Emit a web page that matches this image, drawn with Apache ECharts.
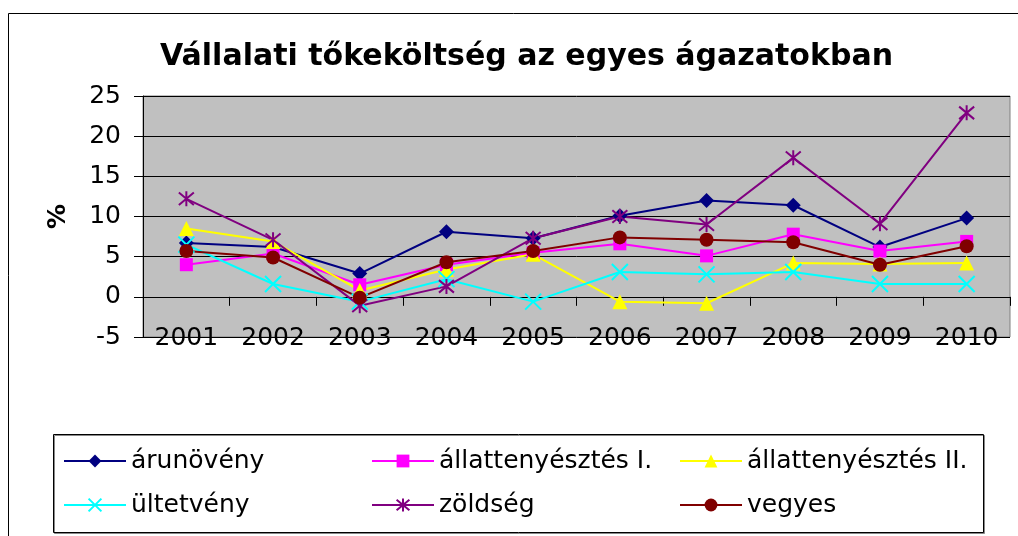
<!DOCTYPE html>
<html>
<head>
<meta charset="utf-8">
<script src="https://cdn.jsdelivr.net/npm/echarts@6/dist/echarts.min.js"></script>
<style>
  html, body { margin: 0; padding: 0; background: #fff; }
  #main { width: 1018px; height: 536px; }
</style>
</head>
<body>
<div id="main"></div>
<script>
// évek
var years = ['2001', '2002', '2003', '2004', '2005', '2006', '2007', '2008', '2009', '2010'];
var yTicks = [-5, 0, 5, 10, 15, 20, 25];

// ágazatonkénti értékek (%)
var arunoveny = [6.7, 6.2, 2.9, 8.1, 7.3, 10.1, 12.0, 11.4, 6.2, 9.8];
var allatI = [4.0, 5.4, 1.5, 4.0, 5.5, 6.6, 5.1, 7.8, 5.7, 6.9];
var allatII = [8.5, 6.9, 0.8, 3.4, 5.3, -0.6, -0.8, 4.2, 4.1, 4.2];
var ultetveny = [6.5, 1.6, -0.6, 2.2, -0.6, 3.1, 2.8, 3.1, 1.6, 1.6];
var zoldseg = [12.2, 7.1, -1.1, 1.3, 7.3, 10.0, 9.0, 17.3, 9.1, 22.9];
var vegyes = [5.7, 4.9, -0.1, 4.3, 5.7, 7.4, 7.1, 6.8, 4.0, 6.3];

var font = 'DejaVu Sans, sans-serif';
var crossPath = 'path://M0 0L10 10M10 0L0 10';
var starPath = 'path://M0 0L10 10M10 0L0 10M5 -1L5 11';

function line(name, data, color, symbol, size, stroke) {
  return {
    name: name,
    type: 'line',
    data: data,
    symbol: symbol,
    symbolSize: size,
    lineStyle: { color: color, width: 2 },
    itemStyle: stroke
      ? { color: color, borderColor: color, borderWidth: 2 }
      : { color: color },
    emphasis: { disabled: true },
    animation: false
  };
}

var option = {
  animation: false,
  title: {
    text: 'Vállalati tőkeköltség az egyes ágazatokban',
    left: 155,
    top: 37,
    textStyle: { fontFamily: font, fontSize: 30, fontWeight: 'bold', color: '#000' }
  },
  graphic: [
    {
      type: 'rect',
      shape: { x: 8.5, y: 13.5, width: 1030, height: 540 },
      style: { fill: 'none', stroke: '#000', lineWidth: 1 }
    },
    {
      type: 'rect',
      shape: { x: 53.5, y: 434.5, width: 930, height: 98 },
      style: { fill: '#fff', stroke: '#000', lineWidth: 1, shadowColor: '#888', shadowOffsetX: 1, shadowOffsetY: 1 },
      z: -1
    }
  ],
  legend: {
    left: 63,
    top: 439,
    width: 950,
    itemWidth: 62,
    itemHeight: 16,
    itemGap: 0,
    padding: 0,
    lineStyle: { width: 2 },
    textStyle: { fontFamily: font, fontSize: 25, color: '#000', width: 240, lineHeight: 44 },
    data: ['árunövény', 'állattenyésztés I.', 'állattenyésztés II.', 'ültetvény', 'zöldség', 'vegyes']
  },
  grid: {
    left: 143,
    top: 96,
    right: 8,
    bottom: 199,
    show: true,
    backgroundColor: '#C0C0C0',
    borderColor: '#808080',
    borderWidth: 1
  },
  xAxis: {
    type: 'category',
    data: years,
    boundaryGap: true,
    axisLine: { onZero: true, lineStyle: { color: '#000', width: 1 } },
    axisTick: { show: true, inside: false, length: 9, lineStyle: { color: '#000' } },
    axisLabel: { fontFamily: font, fontSize: 25, color: '#000', margin: -11 },
    splitLine: { show: false }
  },
  yAxis: {
    type: 'value',
    min: yTicks[0],
    max: yTicks[yTicks.length - 1],
    interval: 5,
    name: '%',
    nameLocation: 'middle',
    nameRotate: 90,
    nameGap: 72,
    nameTextStyle: { fontFamily: font, fontSize: 25, fontWeight: 'bold', color: '#000' },
    axisLine: { show: true, lineStyle: { color: '#000', width: 1 } },
    axisTick: { show: true, inside: false, length: 9, lineStyle: { color: '#000' } },
    axisLabel: { fontFamily: font, fontSize: 25, color: '#000', margin: 22 },
    splitLine: { show: true, lineStyle: { color: '#000', width: 1 } }
  },
  series: [
    line('árunövény', arunoveny, '#000080', 'diamond', 15, false),
    line('állattenyésztés I.', allatI, '#FF00FF', 'rect', 13, false),
    line('állattenyésztés II.', allatII, '#FFFF00', 'triangle', 15, false),
    line('ültetvény', ultetveny, '#00FFFF', crossPath, 16, true),
    line('zöldség', zoldseg, '#800080', starPath, 15, true),
    line('vegyes', vegyes, '#800000', 'circle', 14, false)
  ]
};

var chart = echarts.init(document.getElementById('main'), null, { renderer: 'canvas' });
chart.setOption(option);
</script>
</body>
</html>
